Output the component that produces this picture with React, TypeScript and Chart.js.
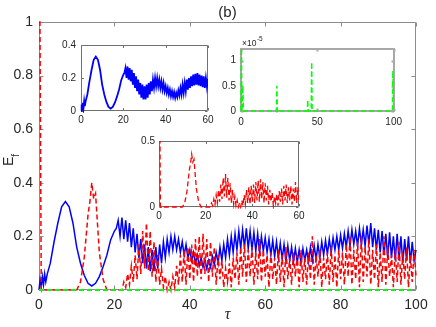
import React, { useEffect, useRef } from 'react';
import { Chart, registerables } from 'chart.js';

Chart.register(...registerables);

const FONT = '"Liberation Sans", Arial, Helvetica, sans-serif';
const TEXT = '#262626';

// ---------- data ----------
// dense sampling grid shared by blue and red series (tau)
const tauDense = [
  20.5, 21, 21.5, 22, 22.5, 23, 23.5, 24, 24.5, 25,
  25.5, 26, 26.5, 27, 27.5, 28, 28.5, 29, 29.5, 30,
  30.5, 31, 31.5, 32, 32.5, 33, 33.5, 34, 34.5, 35,
  35.5, 36, 36.5, 37, 37.5, 38, 38.5, 39, 39.5, 40,
  40.5, 41, 41.5, 42, 42.5, 43, 43.5, 44, 44.5, 45,
  45.5, 46, 46.5, 47, 47.5, 48, 48.5, 49, 49.5, 50,
  50.5, 51, 51.5, 52, 52.5, 53, 53.5, 54, 54.5, 55,
  55.5, 56, 56.5, 57, 57.5, 58, 58.5, 59, 59.5, 60,
  60.5, 61, 61.5, 62, 62.5, 63, 63.5, 64, 64.5, 65,
  65.5, 66, 66.5, 67, 67.5, 68, 68.5, 69, 69.5, 70,
  70.5, 71, 71.5, 72, 72.5, 73, 73.5, 74, 74.5, 75,
  75.5, 76, 76.5, 77, 77.5, 78, 78.5, 79, 79.5, 80,
  80.5, 81, 81.5, 82, 82.5, 83, 83.5, 84, 84.5, 85,
  85.5, 86, 86.5, 87, 87.5, 88, 88.5, 89, 89.5, 90,
  90.5, 91, 91.5, 92, 92.5, 93, 93.5, 94, 94.5, 95,
  95.5, 96, 96.5, 97, 97.5, 98, 98.5, 99, 99.5, 100,
];

const tauBlueHead = [
  0, 0.3, 0.6, 0.9, 1.2, 1.5, 1.8, 2.2, 3, 4,
  5, 6, 7, 8, 9, 10, 11, 12, 13, 14,
  15, 16, 17, 18, 19, 20,
];
const eBlueHead = [
  0, 0.04, 0.01, 0.05, 0.02, 0.06, 0.03, 0.06, 0.1, 0.18,
  0.25, 0.31, 0.33, 0.31, 0.25, 0.16, 0.1, 0.055, 0.025, 0.015,
  0.025, 0.05, 0.087, 0.13, 0.187, 0.22,
];
const eBlueDense = [
  0.23, 0.26, 0.2, 0.27, 0.19, 0.26, 0.18, 0.25, 0.16, 0.23,
  0.14, 0.21, 0.12, 0.19, 0.1, 0.17, 0.08, 0.16, 0.07, 0.15,
  0.07, 0.16, 0.08, 0.17, 0.1, 0.18, 0.12, 0.19, 0.14, 0.2,
  0.15, 0.2, 0.15, 0.19, 0.14, 0.18, 0.13, 0.17, 0.12, 0.15,
  0.11, 0.14, 0.1, 0.13, 0.09, 0.12, 0.085, 0.115, 0.08, 0.11,
  0.085, 0.125, 0.095, 0.14, 0.1, 0.16, 0.11, 0.17, 0.12, 0.19,
  0.13, 0.2, 0.14, 0.21, 0.15, 0.22, 0.155, 0.225, 0.16, 0.23,
  0.155, 0.22, 0.15, 0.215, 0.145, 0.21, 0.14, 0.2, 0.145, 0.195,
  0.14, 0.19, 0.13, 0.185, 0.125, 0.18, 0.12, 0.175, 0.115, 0.17,
  0.11, 0.165, 0.11, 0.16, 0.105, 0.155, 0.105, 0.15, 0.1, 0.155,
  0.11, 0.15, 0.105, 0.16, 0.11, 0.165, 0.115, 0.17, 0.12, 0.18,
  0.13, 0.185, 0.135, 0.19, 0.14, 0.195, 0.15, 0.2, 0.15, 0.205,
  0.155, 0.21, 0.16, 0.22, 0.165, 0.225, 0.17, 0.22, 0.165, 0.23,
  0.17, 0.225, 0.165, 0.24, 0.17, 0.25, 0.16, 0.23, 0.15, 0.225,
  0.14, 0.22, 0.13, 0.21, 0.12, 0.215, 0.12, 0.2, 0.11, 0.21,
  0.11, 0.2, 0.1, 0.19, 0.11, 0.2, 0.1, 0.18, 0.11, 0.15,
];

const tauRedHead = [0, 0.25, 0.6, 10, 11, 12, 13, 13.5, 14, 14.5, 15, 15.5, 16, 17, 18, 20];
const eRedHead = [1, 1, 0, 0, 0.03, 0.12, 0.28, 0.33, 0.4, 0.34, 0.36, 0.25, 0.14, 0.04, 0, 0];
const eRedDense = [
  0, 0, 0, 0, 0.03, 0.01, 0.06, 0.02, 0.09, 0.03,
  0.13, 0.04, 0.17, 0.06, 0.22, 0.08, 0.25, 0.07, 0.22, 0.05,
  0.18, 0.03, 0.13, 0.02, 0.08, 0.01, 0.05, 0, 0.03, 0,
  0.05, 0.01, 0.09, 0.02, 0.13, 0.03, 0.15, 0.02, 0.16, 0.04,
  0.17, 0.03, 0.19, 0.05, 0.2, 0.04, 0.21, 0.06, 0.19, 0.03,
  0.18, 0.05, 0.16, 0.02, 0.13, 0.04, 0.11, 0.01, 0.08, 0.03,
  0.1, 0.01, 0.12, 0.04, 0.14, 0.02, 0.16, 0.05, 0.17, 0.03,
  0.15, 0.05, 0.16, 0.02, 0.14, 0.04, 0.19, 0.03, 0.15, 0.05,
  0.13, 0.01, 0.14, 0.04, 0.12, 0.02, 0.15, 0.03, 0.13, 0.01,
  0.16, 0.04, 0.12, 0.02, 0.14, 0.05, 0.13, 0.01, 0.15, 0.03,
  0.12, 0.02, 0.14, 0.04, 0.2, 0.02, 0.13, 0.05, 0.15, 0.01,
  0.12, 0.04, 0.14, 0.02, 0.16, 0.03, 0.13, 0.01, 0.15, 0.04,
  0.14, 0.02, 0.17, 0.05, 0.2, 0.02, 0.15, 0.04, 0.18, 0.01,
  0.2, 0.03, 0.16, 0.05, 0.19, 0.02, 0.15, 0.04, 0.17, 0.01,
  0.14, 0.03, 0.2, 0.02, 0.16, 0.05, 0.13, 0.01, 0.15, 0.03,
  0.18, 0.02, 0.14, 0.04, 0.16, 0.01, 0.13, 0.03, 0.15, 0.05,
];

// green series, in units of 1e-5
const tauGreen = [0, 0.3, 0.6, 1.2, 1.6, 23.2, 23.5, 23.8, 24.3, 24.6, 43.5, 43.7, 44, 46, 46.3, 46.6, 99.2, 99.5, 100];
const eGreenE5 = [0, 1.25, 0, 0.5, 0, 0, 0.5, 0, 0.03, 0, 0, 0.22, 0, 0, 0.97, 0, 0, 0.8, 0];

// tick values
const mainXTicks = [0, 20, 40, 60, 80, 100];
const mainYTicks = [0, 0.2, 0.4, 0.6, 0.8, 1];
const insetXTicks = [0, 20, 40, 60];
const blueInsetYTicks = [0, 0.2, 0.4];
const redInsetYTicks = [0, 0.5];
const greenXTicks = [0, 50, 100];
const greenYTicks = [0, 0.5, 1];

const tauBlue = [...tauBlueHead, ...tauDense];
const eBlue = [...eBlueHead, ...eBlueDense];
const tauRed = [...tauRedHead, ...tauDense];
const eRed = [...eRedHead, ...eRedDense];

// ---------- helpers ----------
function pts(t: number[], e: number[], k = 1) {
  return t.map((x, i) => ({ x, y: e[i] * k }));
}

function frame(color: string, lw: number, tick: number) {
  return {
    id: 'frame',
    beforeDatasetsDraw(chart: any) {
      const { ctx, chartArea: a, scales } = chart;
      const o = lw % 2 === 1 ? 0.5 : 0;
      const L = Math.round(a.left) + o, R = Math.round(a.right) - o;
      const T = Math.round(a.top) + o, B = Math.round(a.bottom) - o;
      ctx.save();
      ctx.strokeStyle = color;
      ctx.lineWidth = lw;
      ctx.beginPath();
      ctx.rect(L, T, R - L, B - T);
      scales.x.ticks.forEach((t: any) => {
        const x = Math.round(scales.x.getPixelForValue(t.value)) + 0.5;
        ctx.moveTo(x, B); ctx.lineTo(x, B - tick);
        ctx.moveTo(x, T); ctx.lineTo(x, T + tick);
      });
      scales.y.ticks.forEach((t: any) => {
        const y = Math.round(scales.y.getPixelForValue(t.value)) + 0.5;
        ctx.moveTo(L, y); ctx.lineTo(L + tick, y);
        ctx.moveTo(R, y); ctx.lineTo(R - tick, y);
      });
      ctx.stroke();
      ctx.restore();
    },
  };
}

function axis(min: number, max: number, vals: number[], size: number, padding: number, fit: (s: any) => void) {
  return {
    type: 'linear',
    min,
    max,
    grid: { display: false, drawTicks: false },
    border: { display: false },
    afterBuildTicks: (s: any) => { s.ticks = vals.map((v) => ({ value: v })); },
    afterFit: fit,
    ticks: {
      autoSkip: false,
      maxRotation: 0,
      padding,
      color: TEXT,
      font: { family: FONT, size },
      callback: (v: any) => String(v),
    },
  };
}

function baseOptions(padTop: number, padRight: number, x: any, y: any) {
  return {
    responsive: false,
    animation: false,
    devicePixelRatio: 1,
    layout: { padding: { left: 0, top: padTop, right: padRight, bottom: 0 } },
    plugins: { legend: { display: false }, tooltip: { enabled: false }, title: { display: false } },
    elements: { point: { radius: 0 }, line: { tension: 0 } },
    scales: { x, y },
  };
}

const mainText = {
  id: 'mainText',
  afterDraw(chart: any) {
    const { ctx, chartArea: a } = chart;
    const cx = (a.left + a.right) / 2;
    ctx.save();
    ctx.fillStyle = TEXT;
    ctx.textAlign = 'center';
    ctx.textBaseline = 'middle';
    ctx.font = `15px ${FONT}`;
    ctx.fillText('(b)', cx, 13);
    ctx.font = 'italic 16px "Liberation Serif", "DejaVu Serif", serif';
    ctx.fillText('τ', cx, 315);
    ctx.translate(13, 166);
    ctx.rotate(-Math.PI / 2);
    ctx.textAlign = 'left';
    ctx.textBaseline = 'alphabetic';
    ctx.font = `14px ${FONT}`;
    ctx.fillText('E', 0, 0);
    const w = ctx.measureText('E').width;
    ctx.font = `10px ${FONT}`;
    ctx.fillText('f', w, 6);
    ctx.restore();
  },
};

const expText = {
  id: 'expText',
  afterDraw(chart: any) {
    const { ctx, chartArea: a } = chart;
    ctx.save();
    ctx.fillStyle = TEXT;
    ctx.textAlign = 'left';
    ctx.textBaseline = 'alphabetic';
    ctx.font = `8.5px ${FONT}`;
    ctx.fillText('×10', a.left + 1, a.top - 3);
    const w = ctx.measureText('×10').width;
    ctx.font = `6.5px ${FONT}`;
    ctx.fillText('-5', a.left + 1.5 + w, a.top - 8);
    ctx.restore();
  },
};

type Box = { left: number; top: number; width: number; height: number };

function ChartCanvas({ box, make }: { box: Box; make: () => any }) {
  const ref = useRef<HTMLCanvasElement>(null);
  useEffect(() => {
    const chart = new Chart(ref.current as HTMLCanvasElement, make());
    return () => chart.destroy();
  }, []);
  return (
    <canvas
      ref={ref}
      width={box.width}
      height={box.height}
      style={{ position: 'absolute', left: box.left, top: box.top, width: box.width, height: box.height }}
    />
  );
}

const dash = [5, 3];

const makeMain = () => ({
  type: 'line',
  data: {
    datasets: [
      { data: pts(tauGreen, eGreenE5, 1e-5), borderColor: '#00ff00', borderWidth: 2, borderDash: dash, clip: 4 },
      { data: pts(tauRed, eRed), borderColor: '#ff0000', borderWidth: 1.5, borderDash: dash, clip: 4 },
      { data: pts(tauBlue, eBlue), borderColor: '#0000ff', borderWidth: 1.5, clip: 4 },
    ],
  },
  options: baseOptions(
    22, 20,
    axis(0, 100, mainXTicks, 14, 7, (s: any) => { s.height = 37; }),
    axis(0, 1, mainYTicks, 14, 6, (s: any) => { s.width = 39; }),
  ),
  plugins: [frame('#8c8c8c', 1, 4), mainText],
});

const insetClip = { left: 2, top: 0, right: 0, bottom: 2 };

const makeBlueInset = () => ({
  type: 'line',
  data: { datasets: [{ data: pts(tauBlue, eBlue), borderColor: '#0000ff', borderWidth: 1.8, clip: insetClip }] },
  options: baseOptions(
    10, 12,
    axis(0, 60, insetXTicks, 10, 3, (s: any) => { s.height = 19; }),
    axis(0, 0.4, blueInsetYTicks, 10, 5, (s: any) => { s.width = 21; }),
  ),
  plugins: [frame('#707070', 1, 2.5)],
});

const makeGreenInset = () => ({
  type: 'line',
  data: { datasets: [{ data: pts(tauGreen, eGreenE5), borderColor: '#00ff00', borderWidth: 1.5, borderDash: dash, clip: insetClip }] },
  options: baseOptions(
    19, 12,
    axis(0, 100, greenXTicks, 10, 5, (s: any) => { s.height = 17; }),
    axis(0, 1.23, greenYTicks, 10, 5, (s: any) => { s.width = 19; }),
  ),
  plugins: [frame('#a8a8a8', 2, 2.5), expText],
});

const makeRedInset = () => ({
  type: 'line',
  data: { datasets: [{ data: pts(tauRed, eRed), borderColor: '#ff0000', borderWidth: 1.3, borderDash: dash, clip: insetClip }] },
  options: baseOptions(
    11, 12,
    axis(0, 60, insetXTicks, 10, 3, (s: any) => { s.height = 19; }),
    axis(0, 0.5, redInsetYTicks, 10, 4, (s: any) => { s.width = 20; }),
  ),
  plugins: [frame('#707070', 1, 2.5)],
});

export default function App() {
  return (
    <div style={{ position: 'absolute', left: 0, top: 0, width: 436, height: 327, background: '#fff', overflow: 'hidden' }}>
      <ChartCanvas box={{ left: 0, top: 0, width: 436, height: 327 }} make={makeMain} />
      <ChartCanvas box={{ left: 60, top: 34, width: 160, height: 96 }} make={makeBlueInset} />
      <ChartCanvas box={{ left: 222, top: 30, width: 185, height: 98 }} make={makeGreenInset} />
      <ChartCanvas box={{ left: 139, top: 130, width: 172, height: 96 }} make={makeRedInset} />
    </div>
  );
}
